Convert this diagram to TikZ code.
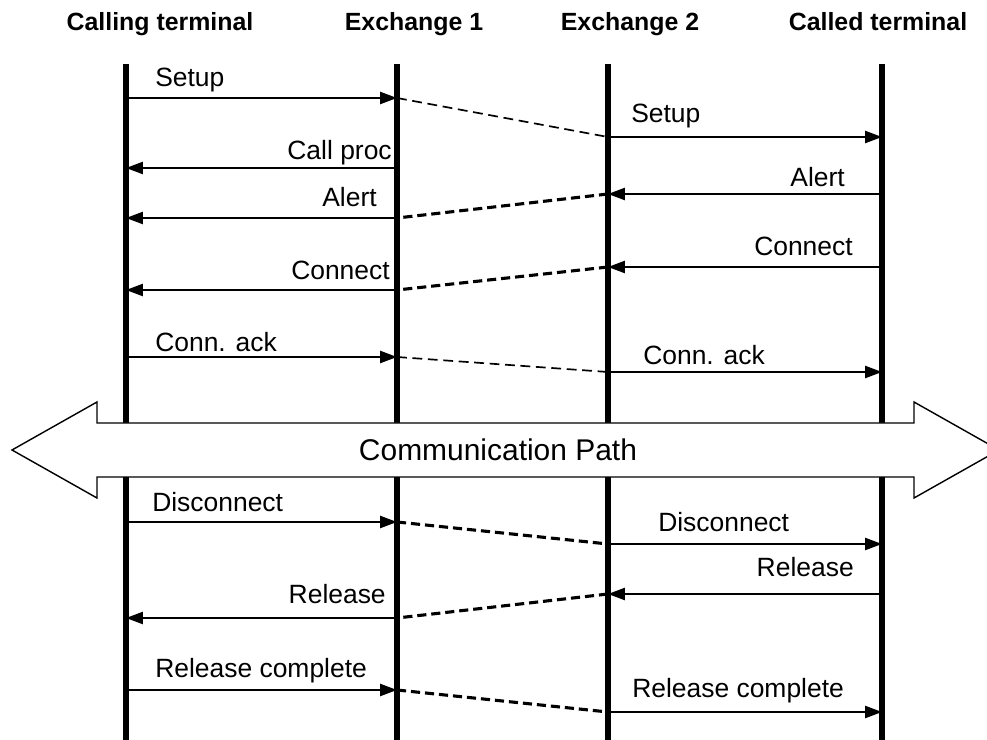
\documentclass[tikz,border=0pt]{standalone}
\usepackage{fontspec}
\setmainfont{Liberation Sans}
\usetikzlibrary{arrows.meta,positioning}

\begin{document}
\begin{tikzpicture}[
  x=0.025cm, y=-0.025cm,
  >={Triangle[length=0.42cm,width=0.3cm]},
  every node/.style={font=\fontsize{18.8}{22}\selectfont, inner sep=0pt},
  head/.style={font=\fontsize{17.7}{21}\selectfont\bfseries, anchor=base},
  lifeline/.style={line width=3.6pt},
  msg/.style={->, line width=1.4pt},
  relay/.style={line width=1.2pt, dash pattern=on 7pt off 4pt},
  relaybold/.style={line width=2.2pt, dash pattern=on 6.5pt off 3.5pt},
  bigarrow/.style={draw, fill=white, line width=1pt, line join=miter}
]
\clip (0,0) rectangle (987,740);

%% headers
\node[head] (ct)  at (160,31) {Calling terminal};
\node[head] (ex1) at (414,31) {Exchange 1};
\node[head] (ex2) at (630,31) {Exchange 2};
\node[head] (cd)  at (878,31) {Called terminal};

%% lifelines
\coordinate (ctTop)  at (126,64);  \coordinate (ctBot)  at (126,740);
\coordinate (ex1Top) at (397,64);  \coordinate (ex1Bot) at (397,740);
\coordinate (ex2Top) at (608,64);  \coordinate (ex2Bot) at (608,740);
\coordinate (cdTop)  at (882,64);  \coordinate (cdBot)  at (882,740);
\draw[lifeline] (ctTop) -- (ctBot);
\draw[lifeline] (ex1Top) -- (ex1Bot);
\draw[lifeline] (ex2Top) -- (ex2Bot);
\draw[lifeline] (cdTop) -- (cdBot);

%% setup
\coordinate (su1) at (126,98);  \coordinate (su2) at (397,98);
\coordinate (su3) at (608,137); \coordinate (su4) at (882,137);
\draw[msg] (su1) -- (su2);
\draw[relay] (su2) -- (su3);
\draw[msg] (su3) -- (su4);
\node[anchor=base west] (suA) at (155,87) {Setup};
\node[anchor=base west] (suB) at (631,123) {Setup};

%% call proceeding
\coordinate (cp1) at (397,168); \coordinate (cp2) at (126,168);
\draw[msg] (cp1) -- (cp2);
\node[anchor=base east] (cpA) at (392,160) {Call proc};

%% alert
\coordinate (al1) at (882,194); \coordinate (al2) at (608,194);
\coordinate (al3) at (397,218); \coordinate (al4) at (126,218);
\draw[msg] (al1) -- (al2);
\draw[relaybold] (al2) -- (al3);
\draw[msg] (al3) -- (al4);
\node[anchor=base east] (alA) at (845,187) {Alert};
\node[anchor=base east] (alB) at (377,207) {Alert};

%% connect
\coordinate (co1) at (882,267); \coordinate (co2) at (608,267);
\coordinate (co3) at (397,290); \coordinate (co4) at (126,290);
\draw[msg] (co1) -- (co2);
\draw[relaybold] (co2) -- (co3);
\draw[msg] (co3) -- (co4);
\node[anchor=base east] (coA) at (853,256) {Connect};
\node[anchor=base east] (coB) at (390,280) {Connect};

%% connect ack
\coordinate (ca1) at (126,357); \coordinate (ca2) at (397,357);
\coordinate (ca3) at (608,372); \coordinate (ca4) at (882,372);
\draw[msg] (ca1) -- (ca2);
\draw[relay] (ca2) -- (ca3);
\draw[msg] (ca3) -- (ca4);
\node[anchor=base west] (caA) at (155,352) {Conn. ack};
\node[anchor=base west] (caB) at (643,365) {Conn. ack};

%% communication path
\draw[bigarrow] (12,450) -- (97,402) -- (97,423) -- (914,423) -- (914,402)
  -- (999,450) -- (914,498) -- (914,477) -- (97,477) -- (97,498) -- cycle;
\node[font=\fontsize{21.3}{25}\selectfont] (path) at (498,450) {Communication Path};

%% disconnect
\coordinate (di1) at (126,522); \coordinate (di2) at (397,522);
\coordinate (di3) at (608,544); \coordinate (di4) at (882,544);
\draw[msg] (di1) -- (di2);
\draw[relaybold] (di2) -- (di3);
\draw[msg] (di3) -- (di4);
\node[anchor=base west] (diA) at (152,512) {Disconnect};
\node[anchor=base west] (diB) at (658,532) {Disconnect};

%% release
\coordinate (re1) at (882,594); \coordinate (re2) at (608,594);
\coordinate (re3) at (397,618); \coordinate (re4) at (126,618);
\draw[msg] (re1) -- (re2);
\draw[relaybold] (re2) -- (re3);
\draw[msg] (re3) -- (re4);
\node[anchor=base east] (reA) at (854,577) {Release};
\node[anchor=base east] (reB) at (386,604) {Release};

%% release complete
\coordinate (rc1) at (126,690); \coordinate (rc2) at (397,690);
\coordinate (rc3) at (608,712); \coordinate (rc4) at (882,712);
\draw[msg] (rc1) -- (rc2);
\draw[relaybold] (rc2) -- (rc3);
\draw[msg] (rc3) -- (rc4);
\node[anchor=base west] (rcA) at (155,677) {Release complete};
\node[anchor=base west] (rcB) at (632,697) {Release complete};
\end{tikzpicture}
\end{document}
